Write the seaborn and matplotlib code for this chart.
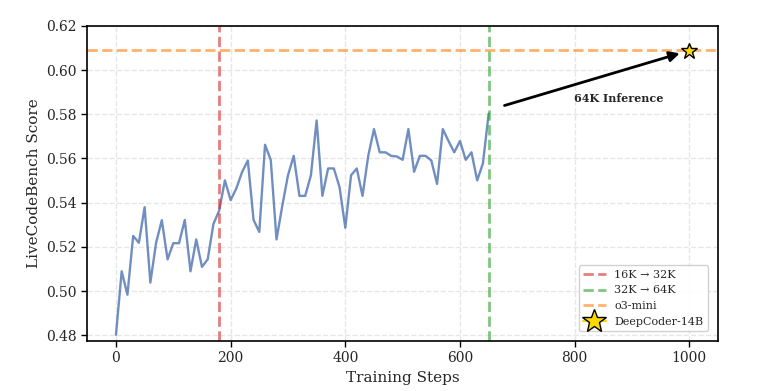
import matplotlib
matplotlib.use("Agg")
import matplotlib.pyplot as plt
import numpy as np
import pandas as pd
import seaborn as sns

# training curve, one point every 10 steps
steps = list(range(0, 660, 10))
scores = [
    0.4803, 0.5090, 0.4984, 0.5250, 0.5219, 0.5380, 0.5039, 0.5219, 0.5321, 0.5144,
    0.5217, 0.5217, 0.5322, 0.5090, 0.5234, 0.5110, 0.5144, 0.5304, 0.5364, 0.5501,
    0.5412, 0.5465, 0.5539, 0.5591, 0.5322, 0.5268, 0.5662, 0.5593, 0.5234, 0.5385,
    0.5524, 0.5612, 0.5431, 0.5431, 0.5524, 0.5772, 0.5431, 0.5555, 0.5555, 0.5470,
    0.5287, 0.5524, 0.5555, 0.5431, 0.5612, 0.5733, 0.5628, 0.5628, 0.5612, 0.5609,
    0.5594, 0.5733, 0.5540, 0.5612, 0.5612, 0.5591, 0.5485, 0.5733, 0.5679, 0.5628,
    0.5679, 0.5594, 0.5628, 0.5501, 0.5578, 0.5803,
]
switch_16_32 = 180
switch_32_64 = 650
o3_mini = 0.609
final_step = 1000
final_score = 0.6085

sns.set_theme(style="whitegrid")
plt.rcParams["font.family"] = ["DejaVu Serif"]
plt.rcParams["grid.linestyle"] = "--"
plt.rcParams["grid.color"] = "#e6e6e6"

df = pd.DataFrame({"step": steps, "score": scores})

fig, ax = plt.subplots(figsize=(7.59, 3.91), dpi=100)
fig.subplots_adjust(left=0.115, right=0.946, top=0.934, bottom=0.128)

sns.lineplot(data=df, x="step", y="score", ax=ax, color="#4c72b0",
             alpha=0.8, linewidth=1.7)

ax.axvline(switch_16_32, color="tab:red", alpha=0.6, linestyle="--",
           linewidth=2, label="16K → 32K")
ax.axvline(switch_32_64, color="tab:green", alpha=0.6, linestyle="--",
           linewidth=2, label="32K → 64K")
ax.axhline(o3_mini, color="tab:orange", alpha=0.6, linestyle="--",
           linewidth=2, label="o3-mini")
ax.plot([final_step], [final_score], marker="*", markersize=12, color="gold",
        markeredgecolor="black", markeredgewidth=1, zorder=5,
        label="DeepCoder-14B")

ax.annotate("", xy=(final_step - 12, final_score - 0.0006),
            xytext=(673, 0.5836),
            arrowprops=dict(arrowstyle="-|>", color="black", lw=2,
                            mutation_scale=15))
ax.text(877, 0.5872, "64K Inference", ha="center", va="center",
        fontsize=8, fontweight="bold")

ax.set_xlim(-50, 1050)
ax.set_ylim(0.4775, 0.62)
ax.set_xticks([0, 200, 400, 600, 800, 1000])
ax.set_yticks(np.arange(0.48, 0.6201, 0.02))
ax.set_xlabel("Training Steps", fontsize=11)
ax.set_ylabel("LiveCodeBench Score", fontsize=11)
ax.tick_params(axis="both", labelsize=10, length=4, width=1, color="black",
               left=True, bottom=True)
for s in ax.spines.values():
    s.set_color("black")
    s.set_linewidth(1.2)

ax.legend(loc="lower right", fontsize=8, frameon=True, framealpha=0.9,
          markerscale=1.5, borderaxespad=0.9)

fig.savefig("out.png", dpi=100)
plt.close(fig)
